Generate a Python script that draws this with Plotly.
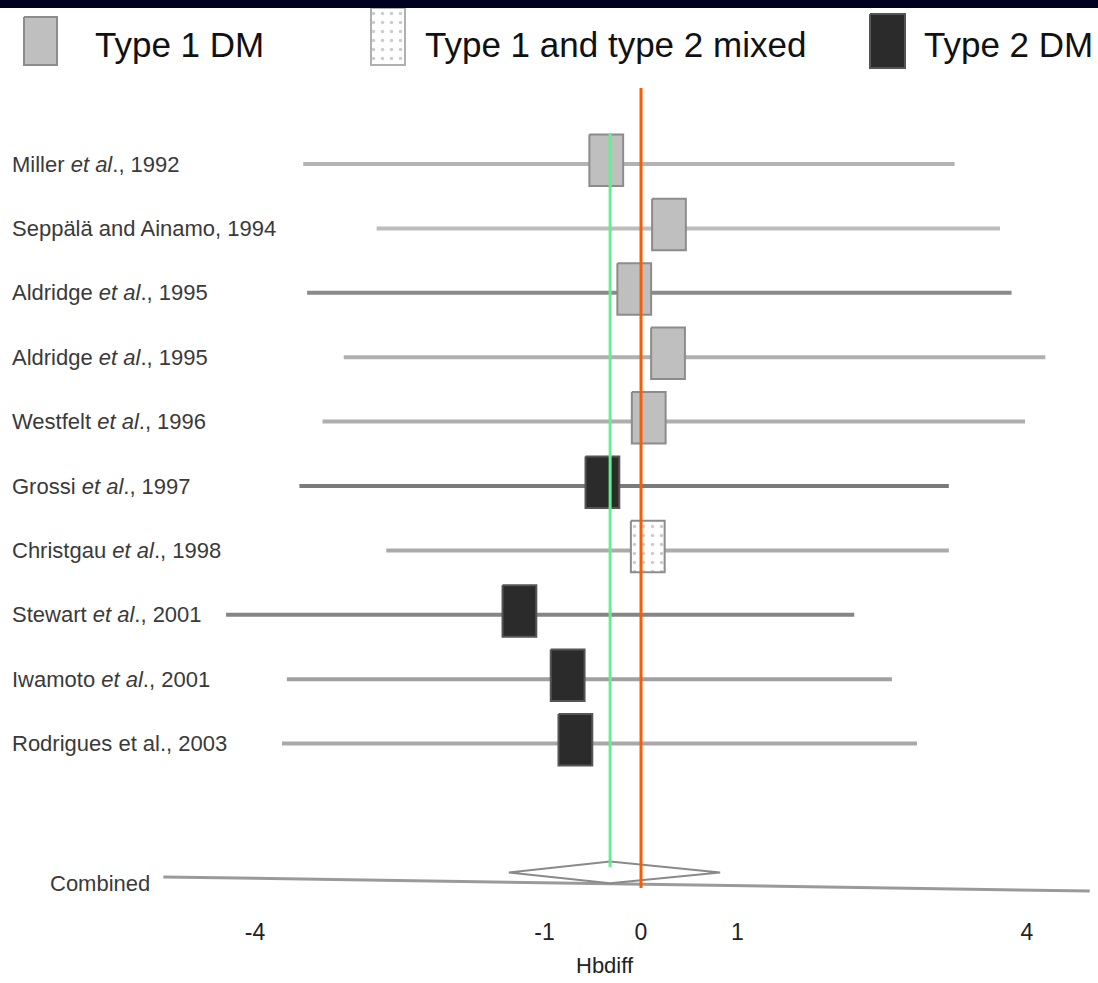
import plotly.graph_objects as go

# ---------------- data ----------------
studies = [
    "Miller <i>et al</i>., 1992",
    "Seppälä and Ainamo, 1994",
    "Aldridge <i>et al</i>., 1995",
    "Aldridge <i>et al</i>., 1995",
    "Westfelt <i>et al</i>., 1996",
    "Grossi <i>et al</i>., 1997",
    "Christgau <i>et al</i>., 1998",
    "Stewart <i>et al</i>., 2001",
    "Iwamoto <i>et al</i>., 2001",
    "Rodrigues et al., 2003",
]
diabetes_type = ["Type 1 DM", "Type 1 DM", "Type 1 DM", "Type 1 DM", "Type 1 DM",
                 "Type 2 DM", "Type 1 and type 2 mixed", "Type 2 DM", "Type 2 DM", "Type 2 DM"]
hbdiff = [-0.36, 0.29, -0.07, 0.28, 0.08, -0.40, 0.07, -1.26, -0.76, -0.68]
ci_low = [-3.50, -2.74, -3.46, -3.08, -3.30, -3.54, -2.64, -4.30, -3.67, -3.72]
ci_high = [3.25, 3.72, 3.84, 4.19, 3.98, 3.19, 3.19, 2.21, 2.60, 2.86]

combined_label = "Combined"
combined_est = -0.32
combined_low = -1.37
combined_high = 0.82
combined_span = [-4.95, 4.65]

legend_names = ["Type 1 DM", "Type 1 and type 2 mixed", "Type 2 DM"]
x_tickvals = [-4, -1, 0, 1, 4]
x_ticktext = ["-4", "-1", "0", "1", "4"]
x_title = "Hbdiff"

# ---------------- styles ----------------
W, H = 1098, 983
PLOT_H = 900
X0_PX, PX_PER_UNIT = 641.0, 96.5
ROW0_PX, PX_PER_ROW = 164.0, 64.4
COMB_ROW = 11

line_colors = ["#b3b3b3", "#bdbdbd", "#8a8a8a", "#b0b0b0", "#aeaeae",
               "#7a7a7a", "#ababab", "#858585", "#a0a0a0", "#a8a8a8"]
type_style = {
    "Type 1 DM": dict(fill="#bfbfbf", line="#8c8c8c"),
    "Type 1 and type 2 mixed": dict(fill="#ffffff", line="#8c8c8c"),
    "Type 2 DM": dict(fill="#2b2b2b", line="#555555"),
}
BOX_HW, BOX_HH, BOX_DY = 0.175, 0.40, -0.06
FONT = "Liberation Sans, Arial, sans-serif"


def px2x(px):
    return (px - X0_PX) / PX_PER_UNIT


def px2row(py):
    return (py - ROW0_PX) / PX_PER_ROW


fig = go.Figure()

# confidence interval lines
for i in range(len(studies)):
    fig.add_trace(go.Scatter(x=[ci_low[i], ci_high[i]], y=[i, i], mode="lines",
                             line=dict(color=line_colors[i], width=4),
                             showlegend=False, hoverinfo="skip"))

# combined line (slightly slanted in the original)
fig.add_trace(go.Scatter(x=combined_span, y=[COMB_ROW + 0.07, COMB_ROW + 0.29], mode="lines",
                         line=dict(color="#9a9a9a", width=3), showlegend=False, hoverinfo="skip"))

# combined diamond
fig.add_trace(go.Scatter(
    x=[combined_low, combined_est, combined_high, combined_est, combined_low],
    y=[COMB_ROW, COMB_ROW - 0.17, COMB_ROW, COMB_ROW + 0.17, COMB_ROW],
    mode="lines", fill="toself", fillcolor="#ffffff",
    line=dict(color="#8a8a8a", width=2), showlegend=False, hoverinfo="skip"))

# study boxes, one trace per type
for name in legend_names:
    xs, ys = [], []
    for i, t in enumerate(diabetes_type):
        if t != name:
            continue
        cx, cy = hbdiff[i], i + BOX_DY
        xs += [cx - BOX_HW, cx + BOX_HW, cx + BOX_HW, cx - BOX_HW, cx - BOX_HW, None]
        ys += [cy - BOX_HH, cy - BOX_HH, cy + BOX_HH, cy + BOX_HH, cy - BOX_HH, None]
    st = type_style[name]
    kw = {}
    if name == "Type 1 and type 2 mixed":
        kw["fillpattern"] = dict(shape=".", fgcolor="#9a9a9a", bgcolor="#ffffff", size=9, solidity=0.12)
    fig.add_trace(go.Scatter(x=xs, y=ys, mode="lines", fill="toself", fillcolor=st["fill"],
                             line=dict(color=st["line"], width=2), name=name,
                             showlegend=False, hoverinfo="skip", **kw))

# reference lines
fig.add_trace(go.Scatter(x=[combined_est, combined_est], y=[px2row(133), px2row(867)], mode="lines",
                         line=dict(color="#62f08f", width=3), showlegend=False, hoverinfo="skip"))
fig.add_trace(go.Scatter(x=[0, 0], y=[px2row(88), px2row(888)], mode="lines",
                         line=dict(color="#ff5a00", width=3), showlegend=False, hoverinfo="skip"))

# legend boxes (decoration axes in pixel units)
legend_boxes = [(24, 57, 17, 65), (371, 405, 8, 65), (870, 905, 14, 68)]
legend_text_x = [93, 423, 922]
for name, (x0, x1, y0, y1), tx in zip(legend_names, legend_boxes, legend_text_x):
    st = type_style[name]
    kw = {}
    if name == "Type 1 and type 2 mixed":
        kw["fillpattern"] = dict(shape=".", fgcolor="#9a9a9a", bgcolor="#ffffff", size=9, solidity=0.12)
    fig.add_trace(go.Scatter(x=[x0, x1, x1, x0, x0], y=[y0, y0, y1, y1, y0], mode="lines",
                             fill="toself", fillcolor=st["fill"],
                             line=dict(color=st["line"] if name != "Type 1 and type 2 mixed" else "#b0b0b0", width=2),
                             xaxis="x2", yaxis="y2", showlegend=False, hoverinfo="skip", **kw))
    fig.add_annotation(x=tx, y=44, xref="x2", yref="y2", text=name, showarrow=False,
                       xanchor="left", yanchor="middle",
                       font=dict(family=FONT, size=35, color="#111111"))

# study labels
for i, s in enumerate(studies):
    fig.add_annotation(x=10, y=i, xref="x2", yref="y", text=s, showarrow=False,
                       xanchor="left", yanchor="middle",
                       font=dict(family=FONT, size=22, color="#3a3a3a"))
fig.add_annotation(x=48, y=COMB_ROW + 0.18, xref="x2", yref="y", text=combined_label, showarrow=False,
                   xanchor="left", yanchor="middle", font=dict(family=FONT, size=22, color="#3a3a3a"))

# x-axis title
fig.add_annotation(x=605 / W, y=(PLOT_H - 965) / PLOT_H, xref="paper", yref="paper", text=x_title,
                   showarrow=False, xanchor="center", yanchor="middle",
                   font=dict(family=FONT, size=22, color="#222222"))

# dark band at the top
fig.add_shape(type="rect", xref="paper", yref="paper", x0=0, x1=1, y0=1 - 8 / PLOT_H, y1=1.01,
              fillcolor="#00001f", line=dict(width=0), layer="above")

fig.update_layout(
    width=W, height=H,
    margin=dict(l=0, r=0, t=0, b=H - PLOT_H, pad=0),
    paper_bgcolor="#ffffff", plot_bgcolor="#ffffff",
    showlegend=False,
    xaxis=dict(range=[px2x(0), px2x(W)], tickvals=x_tickvals, ticktext=x_ticktext,
               showgrid=False, zeroline=False, showline=False, ticks="",
               ticklabelstandoff=16,
               tickfont=dict(family=FONT, size=23, color="#222222")),
    yaxis=dict(range=[px2row(PLOT_H), px2row(0)], visible=False, showgrid=False, zeroline=False),
    xaxis2=dict(range=[0, W], overlaying="x", visible=False),
    yaxis2=dict(range=[PLOT_H, 0], overlaying="y", visible=False),
)

fig.write_html("out.html")
